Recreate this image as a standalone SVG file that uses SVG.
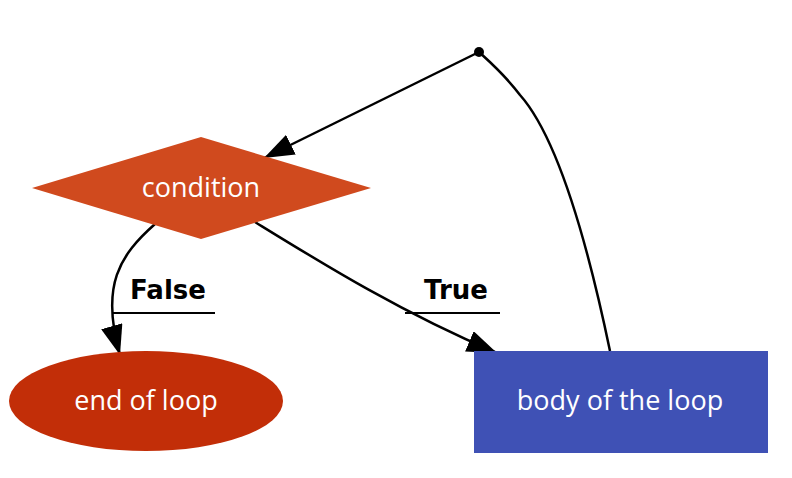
<svg xmlns="http://www.w3.org/2000/svg" width="792" height="478" viewBox="0 0 792 478">
<style>
.lbl{font-family:"Open Sans","DejaVu Sans",sans-serif;font-size:27px;fill:#fff;text-anchor:middle}
.el{font-family:"DejaVu Sans",sans-serif;font-size:26px;font-weight:bold;fill:#000;text-anchor:middle}
.e{fill:none;stroke:#000;stroke-width:2.5}
</style>
<defs><marker id="a" markerWidth="10" markerHeight="8" refX="9" refY="4" orient="auto" markerUnits="userSpaceOnUse" viewBox="0 0 10 8"><path d="M0,0L10,4L0,8z"/></marker>
<marker id="ab" markerWidth="30" markerHeight="22" refX="30" refY="11" orient="auto" markerUnits="userSpaceOnUse"><path d="M0,0L30,11L0,22z" fill="#000"/></marker></defs>
<rect width="792" height="478" fill="#fff"/>
<g id="edges">
<path class="e" d="M479,52 L264,158" marker-end="url(#ab)"/>
<path class="e" d="M610,351 C590,255 560,140 520,95 C505,75 490,62 479,52"/>
<path class="e" d="M155,224 C120,255 100,285 120,355" marker-end="url(#ab)"/>
<path class="e" d="M255,222 C320,262 400,312 497,353" marker-end="url(#ab)"/>
<text class="el" x="168" y="299">False</text>
<line x1="113" y1="313" x2="215" y2="313" stroke="#000" stroke-width="2"/>
<text class="el" x="456" y="299">True</text>
<line x1="405" y1="313" x2="500" y2="313" stroke="#000" stroke-width="2"/>
</g>
<g id="start"><circle cx="479" cy="52" r="5" fill="#000"/></g>
<g id="condition"><polygon points="201,137 371,188 201,239 32,188" fill="#d04a1e"/><text class="lbl" x="201" y="197">condition</text></g>
<g id="end"><ellipse cx="146" cy="401" rx="137" ry="50" fill="#c22e08"/><text class="lbl" x="146" y="410">end of loop</text></g>
<g id="body"><rect x="474" y="351" width="294" height="102" fill="#3f51b5"/><text class="lbl" x="620" y="410">body of the loop</text></g>
</svg>
